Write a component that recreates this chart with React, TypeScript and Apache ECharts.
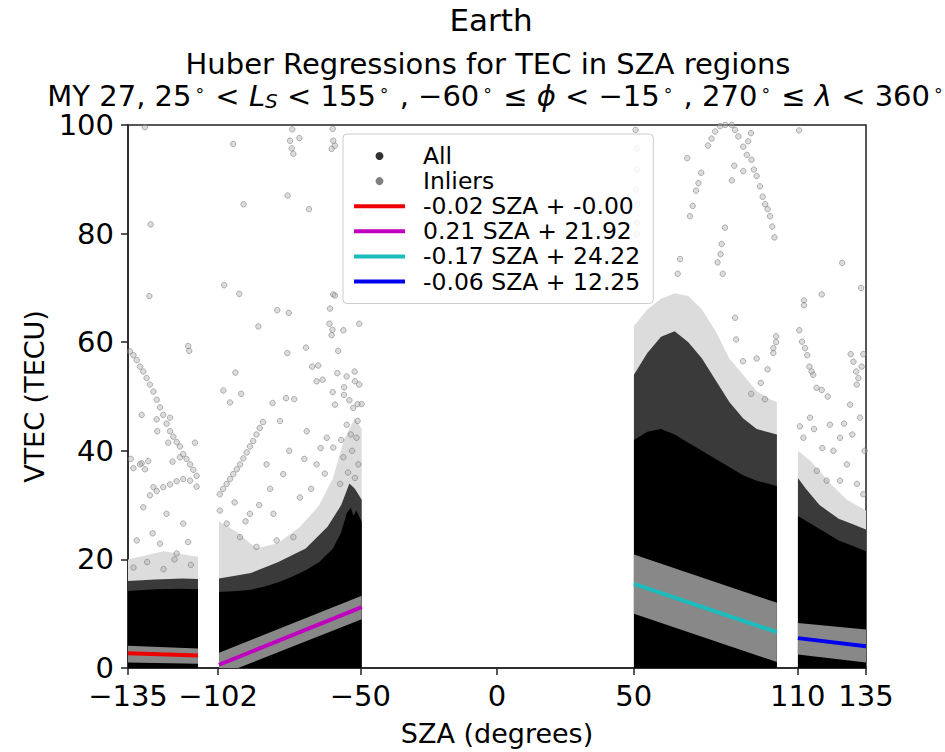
import React, { useEffect, useRef } from 'react';
import * as echarts from 'echarts';

const FONT = 'DejaVu Sans';

// axis ticks
const X_TICKS = [-135, -102, -50, 0, 50, 110, 135];
const Y_TICKS = [0, 20, 40, 60, 80, 100];

// legend labels
const EQ_A = '-0.02 SZA + -0.00';
const EQ_B = '0.21 SZA + 21.92';
const EQ_C = '-0.17 SZA + 24.22';
const EQ_D = '-0.06 SZA + 12.25';

// dense point clouds: upper edges of the sparse / dense / solid zones (lower edge is 0)
const A_OUTER = [[-135, 20], [-122, 21.5], [-109.4, 20.5]];
const A_MID = [[-135, 16], [-125, 16.3], [-115, 16.5], [-109.4, 16.4]];
const A_INNER = [[-135, 14.2], [-125, 14.5], [-115, 14.6], [-109.4, 14.5]];

const B_OUTER = [[-101.7, 27], [-95, 25], [-88, 22], [-80, 23], [-72, 26], [-65, 30], [-60, 35], [-56, 42], [-52, 46], [-49.5, 44]];
const B_MID = [[-101.7, 16.5], [-90, 17.5], [-80, 19.5], [-70, 22], [-62, 26], [-57, 30], [-54, 34], [-52, 33], [-49.5, 31]];
const B_INNER = [[-101.7, 14], [-95, 14.2], [-90, 14.4], [-85, 15], [-80, 15.8], [-75, 16.8], [-70, 18], [-65, 19.5], [-60, 22], [-57, 25], [-55, 28.5], [-53.5, 29.5], [-52.5, 28], [-51.5, 29], [-49.5, 27]];

const C_OUTER = [[50.1, 63], [55, 66], [60, 68], [65, 69], [70, 68.5], [75, 66], [80, 62], [85, 57], [90, 54], [95, 51], [100, 49.5], [102.4, 49]];
const C_MID = [[50.1, 54], [55, 58], [60, 61], [65, 62], [70, 60], [75, 57], [80, 53], [85, 49], [90, 46], [95, 44], [102.4, 43]];
const C_INNER = [[50.1, 42], [55, 43.5], [60, 44], [65, 43], [70, 41.5], [75, 40], [80, 38.5], [85, 37], [90, 35.5], [95, 34.5], [102.4, 33.5]];

const D_OUTER = [[110.1, 40], [115, 38], [122, 34], [128, 31], [135, 29]];
const D_MID = [[110.1, 35], [113, 33], [118, 30], [125, 27.5], [130, 26.5], [135, 25.5]];
const D_INNER = [[110.1, 28], [115, 26.5], [120, 25], [125, 23.5], [130, 22.5], [135, 21.5]];

// inlier bands (polygon vertices)
const BAND_A = [[-135, 1.0], [-135, 4.1], [-109.4, 3.6], [-109.4, 0.8]];
const BAND_B = [[-101.7, 0], [-101.7, 2.8], [-49.5, 13.3], [-49.5, 9.0], [-94.7, 0]];
const BAND_C = [[50.1, 10.0], [50.1, 20.9], [102.4, 12.0], [102.4, 1.1]];
const BAND_D = [[110.1, 2.5], [110.1, 8.3], [135, 7.1], [135, 1.0]];

// regression lines (end points)
const LINE_A = [[-135, 2.7], [-109.4, 2.3]];
const LINE_B = [[-101.7, 0.6], [-49.5, 11.2]];
const LINE_C = [[50.1, 15.5], [102.4, 6.6]];
const LINE_D = [[110.1, 5.5], [135, 4.0]];

// sparse points outside the clouds
const OUT_A = [
  [-128.8, 99.6], [-126.7, 81.7], [-127.2, 68.5],
  [-134.3, 58.3], [-133, 57.6], [-131.8, 56.7], [-130.6, 55.5], [-129.4, 54.6], [-128.2, 53.4], [-127, 52.2],
  [-125.7, 50.9], [-124.5, 49.4], [-123.3, 48], [-122.1, 46.6], [-120.9, 45], [-119.6, 43.6], [-118.4, 42.6],
  [-117.2, 41.6], [-116, 40.8], [-114.8, 39.4], [-113.6, 38.5], [-112.3, 37.5], [-111.1, 36.5], [-109.9, 35.4],
  [-130, 46.6], [-124.5, 45.8], [-124.3, 43.6], [-119.6, 46.1], [-120.3, 41.5], [-110.5, 41.5], [-130, 37.7],
  [-128.8, 36.6], [-118.7, 38], [-116, 38.8], [-130.6, 37.5], [-125.7, 33.3], [-129.4, 29.6], [-120.9, 28.4],
  [-114.8, 26.6], [-131.8, 23.5], [-123.3, 22.9], [-117.2, 21.1], [-127.6, 38.1], [-134, 38.5], [-133, 36.8],
  [-122.1, 33.3], [-119.6, 33.8], [-117.2, 34.4], [-114.8, 34.8], [-112.3, 34.5], [-109.9, 33.4], [-124.5, 32.6],
  [-127, 31.8], [-133, 18.5], [-128, 19.5], [-122, 18.2], [-118, 20], [-112, 19], [-126, 24.8], [-113, 23.2],
];
const OUT_B = [
  [-96.5, 96.5], [-74.9, 99.2], [-75.7, 97.1], [-72.3, 97.6], [-75.1, 95.7], [-74.5, 94.7], [-60.1, 99.3],
  [-59.9, 97.1], [-59.3, 96.2], [-60.5, 95.6], [-92.7, 85.4], [-76.6, 87], [-68.8, 84.5], [-50.4, 83.7],
  [-99.8, 70.5], [-94.3, 68.9], [-80.4, 65.9], [-76.2, 65.4], [-87.3, 62.9], [-113, 59.3], [-112.6, 58.4],
  [-95.7, 54.4], [-76.7, 58], [-69.9, 59], [-61.1, 66.2], [-59.9, 68.8], [-59.3, 68.6], [-61.3, 63.4],
  [-60.2, 62.3], [-60.5, 61.3], [-56.2, 62.2], [-58.1, 58.4], [-50.4, 63.4], [-67.6, 55.5], [-65.4, 55.7],
  [-66, 52.8], [-63.8, 53.1], [-100.1, 51.1], [-93.6, 50.5], [-97.7, 48.9], [-82.1, 48.8], [-77.2, 49.7],
  [-74.2, 49.5], [-58.4, 54.3], [-55, 53.7], [-55.9, 51.7], [-52.1, 54.6], [-52, 52.8], [-50.4, 52.2],
  [-60.1, 50.8], [-56, 50.3], [-54, 49.3], [-51, 48.6], [-59.3, 48.5], [-49.5, 48.6],
  [-101.4, 32], [-100.2, 33], [-98.9, 33.9], [-97.7, 34.8], [-96.5, 35.7], [-95.2, 36.6], [-94, 37.5],
  [-92.8, 38.6], [-91.6, 39.7], [-90.4, 40.8], [-89.2, 41.8], [-88, 43], [-86.8, 44.2], [-85.6, 45.3],
  [-101.4, 29], [-98.9, 26.6], [-94, 24.1], [-88, 22.3], [-80.6, 23.5], [-74.5, 24.1], [-81.8, 28.4],
  [-72.1, 31.4], [-78.2, 35.7], [-66, 37.5], [-59.9, 40.6], [-69.6, 43.6], [-79.4, 45.5], [-84.3, 37.5],
  [-90.4, 28.4], [-62.3, 42.4], [-55, 44.8], [-52.6, 47.9], [-51.4, 42.4], [-50.7, 37.5], [-56.2, 38.8],
  [-57.4, 33.9], [-53, 40], [-54.5, 36], [-52, 35], [-51, 45.5], [-53.5, 43], [-57, 42], [-64.5, 40.5],
  [-70.5, 38.5], [-76, 40], [-83, 33], [-87, 30], [-92, 27], [-96, 30.5], [-68, 33], [-63, 35.8],
];
const OUT_C = [
  [50.7, 99.1], [51.1, 95.7], [51.3, 91.8], [50.9, 88.1], [51.3, 85.4], [51.3, 82], [51.1, 79.9],
  [70.6, 83.2], [71.6, 85.1], [72.8, 87.9], [73.7, 89.3], [74.7, 91.2], [77.2, 96.2], [78.5, 97.5],
  [79.8, 98.8], [81.6, 99.8], [83.5, 100], [85.9, 100], [87.1, 99.1], [88.3, 97.9], [90.1, 96], [91.4, 94.5],
  [93.1, 93.6], [94, 91.8], [95, 90.6], [96.2, 88.7], [97.2, 86.8], [98.1, 85.4], [99, 84.5], [99.9, 83.2],
  [100.7, 81.3], [101.5, 79.3], [83.4, 81.1], [82.2, 78.1], [81.8, 76.2], [80.7, 74.7], [82.6, 72.6],
  [86.8, 92.5], [85.9, 89.8], [90.1, 91.5], [91.9, 97], [92.9, 98.5], [69.6, 93.9], [67, 75.3], [66.1, 72.6],
  [87.1, 64.5], [102.1, 61.1], [102.1, 60], [101.1, 58.9], [101.1, 58], [87.5, 60.5], [95, 57], [99, 55],
  [96.5, 52.5], [90, 56.5], [93, 50.5], [98, 49.5],
];
const OUT_D = [
  [110.5, 99], [126.3, 74.6], [133.2, 70], [118.8, 68.8], [112.3, 67.7], [112.3, 66.8], [110.6, 62.2],
  [111.6, 60.1], [112.7, 58.9], [113.5, 57.6], [114.3, 55.5], [115.1, 54.6], [115.7, 54], [116.9, 51.6],
  [118.8, 51.2], [121, 50], [129.4, 57.8], [130.4, 56.4], [131.4, 54.6], [132.2, 53.4], [131.6, 52.2],
  [134, 57.8], [133.4, 55.5], [114.5, 46.1], [121.8, 44.8], [125.5, 42.4], [129.2, 48.5], [132.8, 46.1],
  [123.1, 40], [128, 37.5], [131.7, 33.9], [117, 36.3], [120.6, 34.5], [112.1, 42.4], [125.5, 34.5],
  [134, 32], [119, 40.5], [116, 44], [127, 45], [134.5, 40], [130, 43], [110.8, 44.5],
];

const CLOUD_COLORS = { outer: '#dcdcdc', mid: '#3a3a3a', inner: '#000000' };
const LINE_COLORS = { a: '#ee0000', b: '#bf00bf', c: '#1cbcbc', d: '#0000ee' };

function cloud(data: number[][], color: string) {
  return {
    type: 'line',
    data,
    symbol: 'none',
    silent: true,
    lineStyle: { width: 0 },
    areaStyle: { color, opacity: 1, origin: 'start' },
    z: 1,
  };
}

function band(points: number[][]) {
  return {
    type: 'custom',
    name: 'Inliers',
    data: points,
    encode: { x: 0, y: 1 },
    silent: true,
    itemStyle: { color: '#888888' },
    z: 3,
    renderItem: (params: any, api: any) => {
      if (params.dataIndex !== 0) return null;
      return {
        type: 'polygon',
        shape: { points: points.map((p) => api.coord(p)) },
        style: { fill: '#888888' },
      };
    },
  };
}

function regLine(name: string, data: number[][], color: string) {
  return {
    type: 'line',
    name,
    data,
    symbol: 'none',
    showSymbol: false,
    silent: true,
    lineStyle: { width: 4, color },
    itemStyle: { color },
    z: 4,
  };
}

function legendLine(name: string, color: string) {
  return {
    name,
    itemStyle: { color: 'rgba(0,0,0,0)', borderWidth: 0, borderColor: 'rgba(0,0,0,0)' },
    lineStyle: { color, width: 4 },
  };
}

const fmt = (v: number) => String(v).replace('-', '\u2212');

export default function App() {
  const ref = useRef<HTMLDivElement>(null);
  useEffect(() => {
    const chart = echarts.init(ref.current!, null, { renderer: 'svg' });
    const titleStyle = { fontFamily: FONT, fontWeight: 'normal', color: '#000' };
    const option: any = {
      animation: false,
      backgroundColor: '#ffffff',
      textStyle: { fontFamily: FONT },
      title: [
        {
          text: 'Earth', left: 491, top: 4, textAlign: 'center', padding: 0,
          textStyle: { ...titleStyle, fontSize: 31, lineHeight: 31 },
        },
        {
          text: 'Huber Regressions for TEC in SZA regions', left: 488, top: 50, textAlign: 'center', padding: 0,
          textStyle: { ...titleStyle, fontSize: 29, lineHeight: 28 },
        },
        {
          text: 'MY 27, 25{d|∘} < {i|L}{s|S} < 155{d|∘} , \u221260{d|∘} ≤ {i|ϕ} < \u221215{d|∘} , 270{d|∘} ≤ {i|λ} < 360{d|∘}',
          left: 496, top: 81, textAlign: 'center', padding: 0,
          textStyle: {
            ...titleStyle, fontSize: 29, lineHeight: 30,
            rich: {
              d: { fontFamily: FONT, fontSize: 17, lineHeight: 15, verticalAlign: 'top', padding: [0, 1, 0, 3], color: '#000' },
              i: { fontFamily: FONT, fontSize: 29, fontStyle: 'italic', lineHeight: 30, color: '#000' },
              s: { fontFamily: FONT, fontSize: 20, fontStyle: 'italic', lineHeight: 18, verticalAlign: 'bottom', color: '#000' },
            },
          },
        },
      ],
      legend: {
        orient: 'vertical',
        left: 343,
        top: 134,
        padding: [10, 13, 10, 9],
        itemGap: 1.1,
        itemWidth: 51,
        itemHeight: 8,
        backgroundColor: 'rgba(255,255,255,0.85)',
        borderColor: '#cccccc',
        borderWidth: 1,
        borderRadius: 4,
        lineStyle: { width: 4 },
        textStyle: { fontFamily: FONT, fontSize: 23.5, lineHeight: 23, color: '#000', padding: [0, 0, 0, 13] },
        data: [
          { name: 'All', icon: 'circle', itemStyle: { color: '#000000', borderWidth: 0 } },
          { name: 'Inliers', icon: 'circle', itemStyle: { color: '#808080', borderWidth: 0 } },
          legendLine(EQ_A, LINE_COLORS.a),
          legendLine(EQ_B, LINE_COLORS.b),
          legendLine(EQ_C, LINE_COLORS.c),
          legendLine(EQ_D, LINE_COLORS.d),
        ],
        selectedMode: false,
      },
      grid: {
        left: 128, right: 79, top: 125, bottom: 80,
        show: true, borderColor: '#222', borderWidth: 1.5, backgroundColor: 'transparent',
      },
      xAxis: {
        type: 'value', min: -135, max: 135,
        name: 'SZA (degrees)', nameLocation: 'middle', nameGap: 52,
        nameTextStyle: { fontFamily: FONT, fontSize: 27, color: '#000' },
        axisLine: { show: true, onZero: false, lineStyle: { color: '#222', width: 1.5 } },
        axisTick: { show: true, length: 7, customValues: X_TICKS, lineStyle: { color: '#222', width: 1.5 } },
        axisLabel: { customValues: X_TICKS, formatter: fmt, fontFamily: FONT, fontSize: 29, lineHeight: 26, color: '#000', margin: 15 },
        splitLine: { show: false },
      },
      yAxis: {
        type: 'value', min: 0, max: 100, interval: 20,
        name: 'VTEC (TECU)', nameLocation: 'middle', nameGap: 80, nameRotate: 90,
        nameTextStyle: { fontFamily: FONT, fontSize: 27, color: '#000' },
        axisLine: { show: true, onZero: false, lineStyle: { color: '#222', width: 1.5 } },
        axisTick: { show: true, length: 7, customValues: Y_TICKS, lineStyle: { color: '#222', width: 1.5 } },
        axisLabel: { customValues: Y_TICKS, fontFamily: FONT, fontSize: 29, lineHeight: 26, color: '#000', margin: 14 },
        splitLine: { show: false },
      },
      series: [
        cloud(A_OUTER, CLOUD_COLORS.outer), cloud(A_MID, CLOUD_COLORS.mid), cloud(A_INNER, CLOUD_COLORS.inner),
        cloud(B_OUTER, CLOUD_COLORS.outer), cloud(B_MID, CLOUD_COLORS.mid), cloud(B_INNER, CLOUD_COLORS.inner),
        cloud(C_OUTER, CLOUD_COLORS.outer), cloud(C_MID, CLOUD_COLORS.mid), cloud(C_INNER, CLOUD_COLORS.inner),
        cloud(D_OUTER, CLOUD_COLORS.outer), cloud(D_MID, CLOUD_COLORS.mid), cloud(D_INNER, CLOUD_COLORS.inner),
        {
          type: 'scatter',
          name: 'All',
          data: [...OUT_A, ...OUT_B, ...OUT_C, ...OUT_D],
          symbolSize: 5.5,
          silent: true,
          itemStyle: { color: 'rgba(175,175,175,0.55)', borderColor: 'rgba(105,105,105,0.75)', borderWidth: 0.8 },
          z: 2,
        },
        band(BAND_A), band(BAND_B), band(BAND_C), band(BAND_D),
        regLine(EQ_A, LINE_A, LINE_COLORS.a),
        regLine(EQ_B, LINE_B, LINE_COLORS.b),
        regLine(EQ_C, LINE_C, LINE_COLORS.c),
        regLine(EQ_D, LINE_D, LINE_COLORS.d),
      ],
    };
    chart.setOption(option);
    return () => chart.dispose();
  }, []);
  return <div ref={ref} style={{ position: 'fixed', left: 0, top: 0, width: 945, height: 752 }} />;
}
